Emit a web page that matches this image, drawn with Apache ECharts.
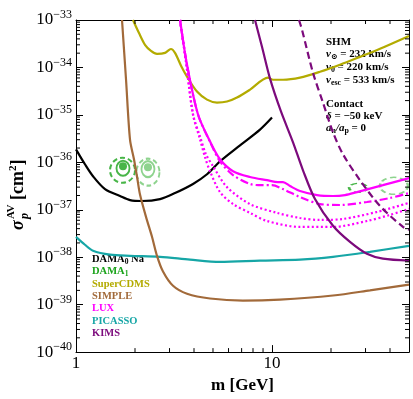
<!DOCTYPE html>
<html>
<head>
<meta charset="utf-8">
<script src="https://cdn.jsdelivr.net/npm/echarts@6/dist/echarts.min.js"></script>
<style>
  html, body { margin: 0; padding: 0; background: #fff; }
  #chart { width: 413px; height: 399px; }
</style>
</head>
<body>
<div id="chart"></div>
<script>
// mass m [GeV], cross section sigma [cm^2]
const dama0Na = [[1, 1.88e-36], [1.111, 9.1e-37], [1.221, 5.1e-37], [1.406, 2.73e-37], [1.677, 1.95e-37],
  [1.886, 1.6e-37], [2.171, 1.53e-37], [2.683, 1.68e-37], [3.2, 2.25e-37], [3.954, 3.5e-37],
  [4.66, 5.6e-37], [5.429, 1.05e-36], [6.867, 2.28e-36], [8.687, 4.9e-36], [10, 8.8e-36]]
const superCDMS = [[1.953, 1e-33], [2.096, 5.3e-34], [2.249, 3.0e-34], [2.413, 2.24e-34], [2.59, 1.94e-34],
  [2.845, 2.03e-34], [3.05, 2.45e-34], [3.2, 2.03e-34], [3.434, 1.09e-34], [3.685, 6.4e-35],
  [4.143, 3.1e-35], [4.66, 2.1e-35], [5.241, 1.82e-35], [5.893, 1.91e-35], [6.628, 2.32e-35],
  [7.723, 3.4e-35], [9.54, 6.1e-35], [10.12, 5.5e-35], [11.38, 5.5e-35], [13.9, 6.1e-35],
  [17.58, 8.1e-35], [22.23, 1.14e-34], [28.12, 1.67e-34], [35.56, 2.47e-34], [50, 4.6e-34]]
const simple = [[1.717, 1e-33], [1.8, 5.5e-35], [1.886, 3.0e-36], [1.976, 1.16e-36], [2.058, 4.4e-37],
  [2.121, 2.1e-37], [2.276, 7.1e-38], [2.442, 2.7e-38], [2.59, 1.07e-38], [2.779, 5.0e-39],
  [3.126, 2.5e-39], [3.685, 1.7e-39], [4.828, 1.35e-39], [7.11, 1.22e-39], [10.98, 1.28e-39],
  [20.47, 1.56e-39], [31.6, 2.0e-39], [50, 2.65e-39]]
const luxMain = [[3.394, 1e-33], [3.685, 1.14e-34], [4.193, 1.02e-35], [4.828, 2.77e-36], [5.429, 1.16e-36],
  [6.324, 6.5e-37], [7.72, 4.9e-37], [9.43, 4.2e-37], [10.73, 3.83e-37], [11.38, 3.83e-37],
  [12.36, 3.16e-37], [13.9, 2.48e-37], [16.97, 2.04e-37], [20.47, 1.95e-37], [23.57, 2.04e-37],
  [27.15, 2.36e-37], [36.8, 3.3e-37], [50, 4.65e-37]]
const luxDashDot = [[3.394, 1e-33], [3.685, 1.14e-34], [4.193, 1.02e-35], [4.828, 2.7e-36], [5.429, 1.05e-36],
  [6.324, 5.4e-37], [7.72, 3.5e-37], [8.89, 3.3e-37], [10, 3.3e-37], [11.38, 2.73e-37],
  [13.9, 1.85e-37], [17.58, 1.32e-37], [22.23, 1.26e-37], [30.5, 1.46e-37], [40, 1.77e-37], [50, 2.25e-37]]
const luxDotA = [[3.394, 1e-33], [3.64, 1.32e-34], [3.954, 1.02e-35], [4.293, 3.5e-36], [4.606, 1.48e-36],
  [5.0, 8.3e-37], [5.893, 3.0e-37], [7.72, 1.32e-37], [10.6, 8.6e-38], [13.9, 6.7e-38],
  [17.58, 6.1e-38], [23.02, 6.4e-38], [34.34, 9.0e-38], [50, 1.4e-37]]
const luxDotB = [[3.394, 1e-33], [3.64, 1.32e-34], [3.954, 1.02e-35], [4.293, 3.05e-36], [4.552, 1.28e-36],
  [4.828, 6.5e-37], [5.429, 2.36e-37], [6.324, 1.32e-37], [7.72, 8.6e-38], [9.43, 5.8e-38],
  [13.9, 4.35e-38], [20.47, 4.35e-38], [30.5, 5.8e-38], [40, 7.8e-38], [50, 1.05e-37]]
const picasso = [[1, 2.69e-38], [1.111, 1.83e-38], [1.221, 1.37e-38], [1.491, 1.13e-38], [1.886, 1.07e-38],
  [2.683, 1.02e-38], [3.816, 8.9e-39], [5.429, 8.0e-39], [8.687, 8.5e-39], [13.9, 8.9e-39],
  [20.47, 1.02e-38], [31.6, 1.3e-38], [50, 1.74e-38]]
const kims = [[8.19, 1e-33], [8.89, 2.72e-34], [9.77, 5.8e-35], [11.11, 1.18e-35], [12.8, 2.64e-36],
  [14.39, 6.8e-37], [16.57, 1.68e-37], [20.47, 4.6e-38], [25.0, 2.1e-38], [30.5, 1.18e-38],
  [36.8, 9.3e-39], [50, 8.45e-39]]
const kimsDashed = [[13.73, 1e-33], [14.23, 6.2e-34], [16.19, 7.7e-35], [18.2, 1.82e-35], [20.47, 4.3e-36],
  [23.02, 1.48e-36], [28.12, 4.2e-37], [35.56, 1.2e-37], [46.6, 4.35e-38], [50, 3.8e-38]]

// DAMA1 regions: ring centres and best fit points
const damaRing = [[1.727, 6.8e-37]]
const damaCore = [[1.737, 7.5e-37]]
const damaBest = [[1.737, 8.3e-37]]
const damaAltRing = [[2.329, 6.2e-37]]
const damaAltCore = [[2.329, 7.2e-37]]
const damaAltBest = [[2.329, 7.9e-37]]
const damaHiRing = [[27.5, 2.9e-37]]
const damaHiAltRing = [[41.9, 3.2e-37]]

const xMinorTicks = [2, 3, 4, 5, 6, 7, 8, 9, 20, 30, 40]
const yDecades = [-40, -39, -38, -37, -36, -35, -34]
const yMantissas = [2, 3, 4, 5, 6, 7, 8, 9]

const SERIF = "'Liberation Serif', 'DejaVu Serif', serif"
const C = {
    black: '#000000', green: '#1aa31a', lightGreen: '#72c872', olive: '#b3ab00',
    brown: '#a26a3a', magenta: '#ff00ff', teal: '#16a6a6', purple: '#7c0a7c'
}

const toLog = arr => arr.map(d => [d[0], Math.log10(d[1])])

function curve(data, color, type) {
    return {
        type: 'line', data: toLog(data), showSymbol: false, smooth: 0.3, clip: true, silent: true,
        lineStyle: { color: color, width: 2.2, type: type || 'solid' }, z: 3
    }
}

function ring(data, color, size, opts) {
    opts = opts || {}
    return {
        type: 'scatter', data: toLog(data), symbol: 'circle', symbolSize: size, silent: true, z: 2,
        itemStyle: opts.fill
            ? { color: color }
            : { color: 'rgba(0,0,0,0)', borderColor: color, borderWidth: opts.width || 2, borderType: opts.dashed ? [5, 3] : 'solid' }
    }
}

const yMinor = []
yDecades.forEach(n => yMantissas.forEach(k => yMinor.push(n + Math.log10(k))))

// minor ticks on all four sides, placed through the axes
const minorTicks = {
    type: 'custom', coordinateSystem: 'cartesian2d', silent: true, data: [[1, -40]], z: 5,
    renderItem(params, api) {
        const cs = params.coordSys
        const kids = []
        const seg = (x1, y1, x2, y2) => kids.push({
            type: 'line', shape: { x1, y1, x2, y2 }, style: { stroke: '#000', lineWidth: 1 }
        })
        xMinorTicks.forEach(v => {
            const x = api.coord([v, -40])[0]
            seg(x, cs.y + cs.height, x, cs.y + cs.height - 4)
            seg(x, cs.y, x, cs.y + 4)
        })
        yMinor.forEach(v => {
            const y = api.coord([1, v])[1]
            seg(cs.x, y, cs.x + 4, y)
            seg(cs.x + cs.width, y, cs.x + cs.width - 4, y)
        })
        return { type: 'group', children: kids }
    }
}

const tickStyle = { show: true, inside: true, length: 7, lineStyle: { color: '#000', width: 1 } }
const lineStyleAxis = { show: true, lineStyle: { color: '#000', width: 1 } }

const legendItems = [
    ['{m|DAMA}{s|0}{m| Na}', C.black],
    ['{m|DAMA}{s|1}', C.green],
    ['{m|SuperCDMS}', C.olive],
    ['{m|SIMPLE}', C.brown],
    ['{m|LUX}', C.magenta],
    ['{m|PICASSO}', C.teal],
    ['{m|KIMS}', C.purple]
]
const noteLines = [
    ['{m|SHM}', 42],
    ['{i|v}{s|⊙}{m| = 232 km/s}', 54],
    ['{i|v}{s|0}{m| = 220 km/s}', 67],
    ['{i|v}{s|esc}{m| = 533 km/s}', 80],
    ['{m|Contact}', 104],
    ['{i|δ}{m| = −50 keV}', 116],
    ['{i|a}{s|n}{i|/a}{s|p}{m| = 0}', 128]
]

function richFor(color, size) {
    return {
        m: { fontFamily: SERIF, fontWeight: 'bold', fontSize: size, fill: color, color: color },
        i: { fontFamily: SERIF, fontWeight: 'bold', fontStyle: 'italic', fontSize: size, fill: color, color: color },
        s: { fontFamily: SERIF, fontWeight: 'bold', fontSize: size * 0.72, fill: color, color: color, padding: [6, 0, 0, 0] }
    }
}

const graphics = []
legendItems.forEach((it, i) => {
    graphics.push({
        type: 'text', x: 92, y: 259 + i * 12.4, silent: true,
        style: { text: it[0], rich: richFor(it[1], 10.5), fill: it[1], align: 'left', verticalAlign: 'middle' }
    })
})
noteLines.forEach(it => {
    graphics.push({
        type: 'text', x: 326, y: it[1], silent: true,
        style: { text: it[0], rich: richFor('#000', 11), fill: '#000', align: 'left', verticalAlign: 'middle' }
    })
})
// y axis title, reads bottom to top
const titleRot = Math.PI / 2
graphics.push(
    { type: 'text', x: 18, y: 230, rotation: titleRot, silent: true,
      style: { text: 'σ', fill: '#000', font: 'italic bold 18px ' + SERIF, align: 'left', verticalAlign: 'middle' } },
    { type: 'text', x: 11, y: 219, rotation: titleRot, silent: true,
      style: { text: 'AV', fill: '#000', font: 'bold 11px ' + SERIF, align: 'left', verticalAlign: 'middle' } },
    { type: 'text', x: 25, y: 219, rotation: titleRot, silent: true,
      style: { text: 'p', fill: '#000', font: 'italic bold 12px ' + SERIF, align: 'left', verticalAlign: 'middle' } },
    { type: 'text', x: 18, y: 200, rotation: titleRot, silent: true,
      style: {
          text: '{m|[cm}{u|2}{m|]}', align: 'left', verticalAlign: 'middle',
          rich: {
              m: { fontFamily: SERIF, fontWeight: 'bold', fontSize: 18, fill: '#000' },
              u: { fontFamily: SERIF, fontWeight: 'bold', fontSize: 11, fill: '#000', padding: [0, 0, 10, 0] }
          }
      } }
)

const chart = echarts.init(document.getElementById('chart'))
chart.setOption({
    animation: false,
    backgroundColor: '#fff',
    grid: { left: 76, right: 4, top: 20, bottom: 45 },
    xAxis: [
        {
            type: 'log', logBase: 10, min: 1, max: 50, position: 'bottom',
            axisLine: lineStyleAxis, axisTick: tickStyle, splitLine: { show: false },
            axisLabel: {
                color: '#000', fontFamily: SERIF, fontSize: 17, margin: 3,
                formatter: v => {
                    const l = Math.log10(v)
                    return Math.abs(l - Math.round(l)) < 1e-6 ? String(Math.round(v)) : ''
                }
            },
            name: 'm [GeV]', nameLocation: 'middle', nameGap: 24,
            nameTextStyle: { fontFamily: SERIF, fontWeight: 'bold', fontSize: 17, color: '#000' }
        },
        {
            type: 'log', logBase: 10, min: 1, max: 50, position: 'top',
            axisLine: lineStyleAxis, axisTick: tickStyle, splitLine: { show: false }, axisLabel: { show: false }
        }
    ],
    yAxis: [
        {
            type: 'value', min: -40, max: -33, interval: 1, position: 'left',
            axisLine: lineStyleAxis, axisTick: tickStyle, splitLine: { show: false },
            axisLabel: {
                margin: 4,
                formatter: v => '{b|10}{s|−' + Math.abs(Math.round(v)) + '}',
                rich: {
                    b: { fontFamily: SERIF, fontSize: 17, color: '#000' },
                    s: { fontFamily: SERIF, fontSize: 12, color: '#000', padding: [0, 0, 10, 0] }
                }
            }
        },
        {
            type: 'value', min: -40, max: -33, interval: 1, position: 'right',
            axisLine: lineStyleAxis, axisTick: tickStyle, splitLine: { show: false }, axisLabel: { show: false }
        }
    ],
    graphic: graphics,
    series: [
        ring(damaRing, C.green, 25, { dashed: true }),
        ring(damaCore, C.green, [13, 15]),
        ring(damaBest, C.green, 8, { fill: true }),
        ring(damaAltRing, C.lightGreen, [23, 27], { dashed: true }),
        ring(damaAltCore, C.lightGreen, [13, 16]),
        ring(damaAltBest, C.lightGreen, 8, { fill: true }),
        ring(damaHiRing, C.green, [18, 9], { dashed: true }),
        ring(damaHiAltRing, C.lightGreen, [28, 17], { dashed: true }),
        curve(dama0Na, C.black),
        curve(picasso, C.teal),
        curve(superCDMS, C.olive),
        curve(luxDotA, C.magenta, [2, 2.5]),
        curve(luxDotB, C.magenta, [2, 2.5]),
        curve(luxDashDot, C.magenta, [8, 3, 2, 3]),
        curve(luxMain, C.magenta),
        curve(kims, C.purple),
        curve(kimsDashed, C.purple, [7, 4]),
        curve(simple, C.brown),
        minorTicks
    ]
})
</script>
</body>
</html>
